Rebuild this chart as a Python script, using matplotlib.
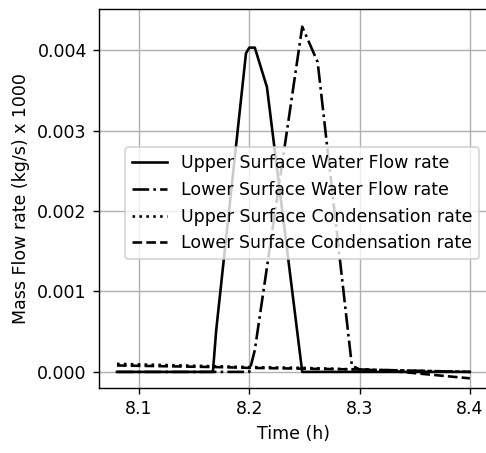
import matplotlib
matplotlib.use("Agg")
import matplotlib.pyplot as plt

# upper surface water flow rate
t_upper = [8.08, 8.167, 8.17, 8.197, 8.200, 8.205, 8.216, 8.248, 8.30, 8.40]
q_upper = [0.0, 0.0, 0.00052, 0.00396, 0.00403, 0.00403, 0.00354, 0.0, 0.0, 0.0]

# lower surface water flow rate
t_lower = [8.08, 8.20, 8.205, 8.248, 8.262, 8.293, 8.30, 8.40]
q_lower = [0.0, 0.0, 0.00027, 0.00429, 0.00385, 0.00008, 0.00003, 0.0]

# condensation rates
t_cond = [8.08, 8.17, 8.20, 8.25, 8.30, 8.33, 8.40]
c_upper = [0.00010, 0.00007, 0.00006, 0.00005, 0.00003, 0.00002, 0.0]
c_lower = [0.00008, 0.00006, 0.00005, 0.00004, 0.00003, 0.00001, -0.00008]

fig = plt.figure(figsize=(486 / 125, 453 / 125), dpi=125)
ax = fig.add_axes([0.2037, 0.1435, 0.80, 0.8366])

ax.plot(t_upper, q_upper, 'k-', lw=1.5, label='Upper Surface Water Flow rate')
ax.plot(t_lower, q_lower, 'k-.', lw=1.5, label='Lower Surface Water Flow rate')
ax.plot(t_cond, c_upper, 'k:', lw=1.5, label='Upper Surface Condensation rate')
ax.plot(t_cond, c_lower, 'k--', lw=1.5, label='Lower Surface Condensation rate')

ax.set_xlim(8.0637, 8.4163)
ax.set_ylim(-0.0002, 0.00451)
ax.set_xticks([8.1, 8.2, 8.3, 8.4])
ax.set_yticks([0.0, 0.001, 0.002, 0.003, 0.004])
ax.grid(True)
ax.set_xlabel('Time (h)')
ax.set_ylabel('Mass Flow rate (kg/s) x 1000')
ax.legend(loc='center right', bbox_to_anchor=(1.0, 0.487))

fig.savefig('out.png', dpi=125)
